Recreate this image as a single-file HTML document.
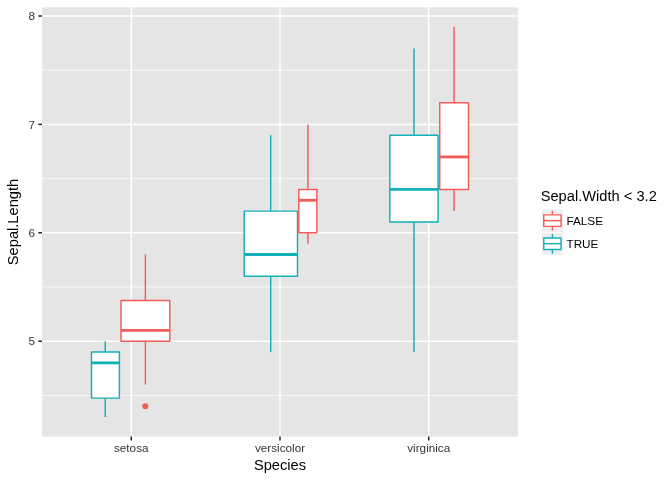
<!DOCTYPE html>
<html><head><meta charset="utf-8"><title>Sepal.Length by Species</title>
<style>html,body{margin:0;padding:0;background:#fff;}svg{display:block;}text{font-family:"Liberation Sans",Arial,Helvetica,sans-serif;}</style></head><body>
<svg width="672" height="480" viewBox="0 0 672 480">
<rect x="0" y="0" width="672" height="480" fill="#ffffff"/>
<rect x="42.0" y="7.3" width="476.0" height="429.3" fill="#E5E5E5"/>
<line x1="42.0" x2="518.0" y1="395.40" y2="395.40" stroke="#FFFFFF" stroke-width="0.68"/>
<line x1="42.0" x2="518.0" y1="287.00" y2="287.00" stroke="#FFFFFF" stroke-width="0.68"/>
<line x1="42.0" x2="518.0" y1="178.60" y2="178.60" stroke="#FFFFFF" stroke-width="0.68"/>
<line x1="42.0" x2="518.0" y1="70.20" y2="70.20" stroke="#FFFFFF" stroke-width="0.68"/>
<line x1="42.0" x2="518.0" y1="341.20" y2="341.20" stroke="#FFFFFF" stroke-width="1.45"/>
<line x1="42.0" x2="518.0" y1="232.80" y2="232.80" stroke="#FFFFFF" stroke-width="1.45"/>
<line x1="42.0" x2="518.0" y1="124.40" y2="124.40" stroke="#FFFFFF" stroke-width="1.45"/>
<line x1="42.0" x2="518.0" y1="16.00" y2="16.00" stroke="#FFFFFF" stroke-width="1.45"/>
<line x1="131.25" x2="131.25" y1="7.3" y2="436.6" stroke="#FFFFFF" stroke-width="1.45"/>
<line x1="280.0" x2="280.0" y1="7.3" y2="436.6" stroke="#FFFFFF" stroke-width="1.45"/>
<line x1="428.75" x2="428.75" y1="7.3" y2="436.6" stroke="#FFFFFF" stroke-width="1.45"/>
<g stroke="#12B0B7" stroke-width="1.45" fill="none" stroke-linejoin="round">
<line x1="105.2" x2="105.2" y1="341.20" y2="352.04"/>
<line x1="105.2" x2="105.2" y1="398.11" y2="417.08"/>
<rect x="91.5" y="352.04" width="27.90" height="46.07" fill="#FFFFFF"/>
<line x1="91.5" x2="119.4" y1="362.88" y2="362.88" stroke-width="2.85"/>
</g>
<g stroke="#F35D59" stroke-width="1.45" fill="none" stroke-linejoin="round">
<line x1="145.4" x2="145.4" y1="254.48" y2="300.55"/>
<line x1="145.4" x2="145.4" y1="341.20" y2="384.56"/>
<rect x="121.0" y="300.55" width="48.80" height="40.65" fill="#FFFFFF"/>
<line x1="121.0" x2="169.8" y1="330.36" y2="330.36" stroke-width="2.85"/>
</g>
<g stroke="#12B0B7" stroke-width="1.45" fill="none" stroke-linejoin="round">
<line x1="270.7" x2="270.7" y1="135.24" y2="211.12"/>
<line x1="270.7" x2="270.7" y1="276.16" y2="352.04"/>
<rect x="244.2" y="211.12" width="53.30" height="65.04" fill="#FFFFFF"/>
<line x1="244.2" x2="297.5" y1="254.48" y2="254.48" stroke-width="2.85"/>
</g>
<g stroke="#F35D59" stroke-width="1.45" fill="none" stroke-linejoin="round">
<line x1="307.9" x2="307.9" y1="124.40" y2="189.44"/>
<line x1="307.9" x2="307.9" y1="232.80" y2="243.64"/>
<rect x="298.8" y="189.44" width="18.10" height="43.36" fill="#FFFFFF"/>
<line x1="298.8" x2="316.9" y1="200.28" y2="200.28" stroke-width="2.85"/>
</g>
<g stroke="#12B0B7" stroke-width="1.45" fill="none" stroke-linejoin="round">
<line x1="414.0" x2="414.0" y1="48.52" y2="135.24"/>
<line x1="414.0" x2="414.0" y1="221.96" y2="352.04"/>
<rect x="389.8" y="135.24" width="48.30" height="86.72" fill="#FFFFFF"/>
<line x1="389.8" x2="438.1" y1="189.44" y2="189.44" stroke-width="2.85"/>
</g>
<g stroke="#F35D59" stroke-width="1.45" fill="none" stroke-linejoin="round">
<line x1="454.1" x2="454.1" y1="26.84" y2="102.72"/>
<line x1="454.1" x2="454.1" y1="189.44" y2="211.12"/>
<rect x="439.75" y="102.72" width="28.75" height="86.72" fill="#FFFFFF"/>
<line x1="439.75" x2="468.5" y1="156.92" y2="156.92" stroke-width="2.85"/>
</g>
<circle cx="145.3" cy="406.24" r="3.05" fill="#F35D59"/>
<line x1="38.33" x2="42.0" y1="341.20" y2="341.20" stroke="#1E1E1E" stroke-width="1.45"/>
<text x="35.0" y="345.40" font-size="11.73" fill="#343434" text-anchor="end">5</text>
<line x1="38.33" x2="42.0" y1="232.80" y2="232.80" stroke="#1E1E1E" stroke-width="1.45"/>
<text x="35.0" y="237.00" font-size="11.73" fill="#343434" text-anchor="end">6</text>
<line x1="38.33" x2="42.0" y1="124.40" y2="124.40" stroke="#1E1E1E" stroke-width="1.45"/>
<text x="35.0" y="128.60" font-size="11.73" fill="#343434" text-anchor="end">7</text>
<line x1="38.33" x2="42.0" y1="16.00" y2="16.00" stroke="#1E1E1E" stroke-width="1.45"/>
<text x="35.0" y="20.20" font-size="11.73" fill="#343434" text-anchor="end">8</text>
<line x1="131.25" x2="131.25" y1="436.6" y2="440.50" stroke="#1E1E1E" stroke-width="1.45"/>
<text x="131.25" y="452" font-size="11.73" fill="#343434" text-anchor="middle">setosa</text>
<line x1="280.0" x2="280.0" y1="436.6" y2="440.50" stroke="#1E1E1E" stroke-width="1.45"/>
<text x="280.0" y="452" font-size="11.73" fill="#343434" text-anchor="middle">versicolor</text>
<line x1="428.75" x2="428.75" y1="436.6" y2="440.50" stroke="#1E1E1E" stroke-width="1.45"/>
<text x="428.75" y="452" font-size="11.73" fill="#343434" text-anchor="middle">virginica</text>
<text x="280" y="469.5" font-size="14.67" fill="#000000" text-anchor="middle">Species</text>
<text transform="translate(18.2,222) rotate(-90)" font-size="14.67" fill="#000000" text-anchor="middle">Sepal.Length</text>
<text x="540.7" y="200.6" font-size="14.67" fill="#000000">Sepal.Width &lt; 3.2</text>
<rect x="541.60" y="210.10" width="21.64" height="21.64" fill="#EEEEEE"/>
<g stroke="#F35D59" stroke-width="1.45" fill="none" stroke-linejoin="round">
<line x1="552.42" x2="552.42" y1="210.83" y2="214.86"/>
<line x1="552.42" x2="552.42" y1="226.38" y2="230.64"/>
<rect x="543.78" y="214.86" width="17.28" height="11.52" fill="#FFFFFF"/>
<line x1="543.78" x2="561.06" y1="220.62" y2="220.62"/>
</g>
<text x="566.5" y="225.12" font-size="11.73" fill="#000000">FALSE</text>
<rect x="541.60" y="233.14" width="21.64" height="21.64" fill="#EEEEEE"/>
<g stroke="#12B0B7" stroke-width="1.45" fill="none" stroke-linejoin="round">
<line x1="552.42" x2="552.42" y1="233.87" y2="237.90"/>
<line x1="552.42" x2="552.42" y1="249.42" y2="253.68"/>
<rect x="543.78" y="237.90" width="17.28" height="11.52" fill="#FFFFFF"/>
<line x1="543.78" x2="561.06" y1="243.66" y2="243.66"/>
</g>
<text x="566.5" y="248.16" font-size="11.73" fill="#000000">TRUE</text>
</svg></body></html>
